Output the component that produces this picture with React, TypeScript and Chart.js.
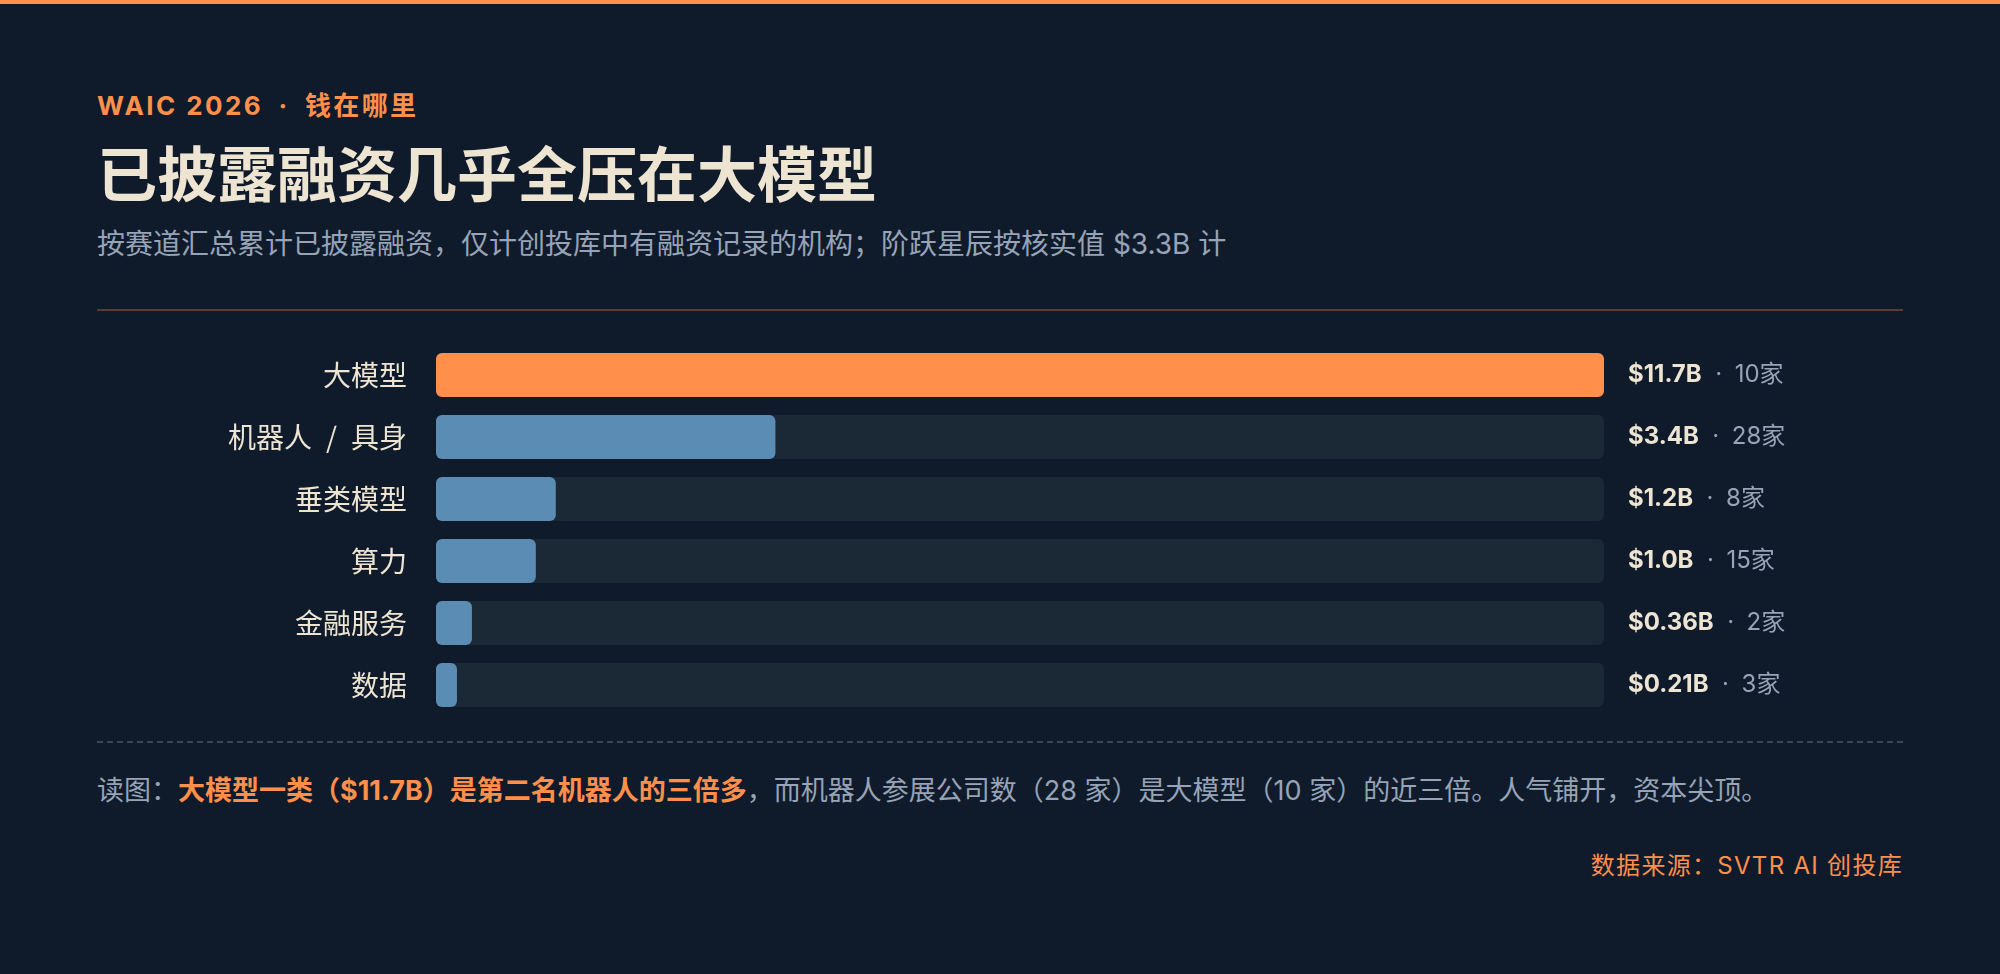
import { useEffect, useRef } from "react";
import { Chart, registerables } from "chart.js";

Chart.register(...registerables);

// ---- data ----
const categories = ["大模型", "机器人 / 具身", "垂类模型", "算力", "金融服务", "数据"];
const fundingB = [11.7, 3.4, 1.2, 1.0, 0.36, 0.21];
const companyCounts = [10, 28, 8, 15, 2, 3];
const highlightIndex = 0;

// ---- style ----
const BG = "#0F1B2B";
const ORANGE = "#FF8F4A";
const BLUE = "#5B8DB4";
const TRACK = "#1B2836";
const CREAM = "#EEE4D2";
const GREY = "#97A3B6";
const FONT = 'Inter, "Noto Sans CJK SC", sans-serif';
const CJK = '"Noto Sans CJK SC", Inter, sans-serif';

const fmt = (v: number) => (v >= 1 ? v.toFixed(1) : v.toFixed(2));

const valueLabelPlugin = {
  id: "valueLabels",
  afterDatasetsDraw(chart: any) {
    const { ctx, chartArea, scales } = chart;
    const ys = scales.y;
    ctx.save();
    ctx.textBaseline = "middle";
    fundingB.forEach((v, i) => {
      const cy = ys.getPixelForValue(i);
      const x0 = chartArea.right + 24;
      ctx.font = `700 24px ${FONT}`;
      ctx.fillStyle = CREAM;
      ctx.textAlign = "left";
      const main = `$${fmt(v)}B`;
      ctx.fillText(main, x0, cy);
      const w = ctx.measureText(main).width;
      ctx.font = `400 24px ${FONT}`;
      ctx.fillStyle = GREY;
      ctx.textAlign = "center";
      ctx.fillText("·", x0 + w + 17, cy);
      ctx.textAlign = "left";
      ctx.fillText(`${companyCounts[i]}家`, x0 + w + 33, cy);
    });
    ctx.restore();
  },
};

export default function App() {
  const canvasRef = useRef<HTMLCanvasElement | null>(null);

  useEffect(() => {
    if (!canvasRef.current) return;
    const trackMax = Math.max(...fundingB);
    const barColors = fundingB.map((_, i) => (i === highlightIndex ? ORANGE : BLUE));
    const chart = new Chart(canvasRef.current, {
      type: "bar",
      data: {
        labels: categories,
        datasets: [
          {
            data: fundingB,
            backgroundColor: barColors,
            borderRadius: 6,
            borderSkipped: false,
            barPercentage: 0.71,
            categoryPercentage: 1,
            grouped: false,
            order: 1,
          },
          {
            data: categories.map(() => trackMax),
            backgroundColor: TRACK,
            borderRadius: 6,
            borderSkipped: false,
            barPercentage: 0.71,
            categoryPercentage: 1,
            grouped: false,
            order: 2,
          },
        ],
      },
      options: {
        indexAxis: "y",
        responsive: false,
        maintainAspectRatio: false,
        animation: false,
        devicePixelRatio: 1,
        layout: { padding: { left: 0, right: 299, top: 20, bottom: 20 } },
        plugins: { legend: { display: false }, tooltip: { enabled: false } },
        scales: {
          x: { min: 0, max: trackMax, display: false },
          y: {
            grid: { display: false, drawTicks: true, tickLength: 29 },
            border: { display: false },
            ticks: {
              color: CREAM,
              font: { size: 28, family: CJK },
              padding: 0,
              callback: (_v: any, i: number) => categories[i].replace(" / ", "\u2002/\u2002"),
            },
            afterFit: (s: any) => {
              s.width = 339;
            },
          },
        },
      },
      plugins: [valueLabelPlugin],
    } as any);
    return () => chart.destroy();
  }, []);

  return (
    <div
      style={{
        position: "fixed",
        left: 0,
        top: 0,
        width: 2000,
        height: 974,
        background: BG,
        overflow: "hidden",
        fontFamily: FONT,
      }}
    >
      <div style={{ position: "absolute", left: 0, top: 0, width: 2000, height: 4, background: ORANGE }} />
      <div
        style={{
          position: "absolute",
          left: 97,
          top: 93,
          fontSize: 26,
          lineHeight: "26px",
          fontWeight: 700,
          letterSpacing: "2.4px",
          color: ORANGE,
          whiteSpace: "nowrap",
        }}
      >
        WAIC 2026{"\u2002·\u2002"}钱在哪里
      </div>
      <div
        style={{
          position: "absolute",
          left: 97,
          top: 141,
          fontSize: 60,
          lineHeight: "60px",
          fontWeight: 700,
          color: CREAM,
          fontFamily: CJK,
          whiteSpace: "nowrap",
        }}
      >
        已披露融资几乎全压在大模型
      </div>
      <div
        style={{
          position: "absolute",
          left: 97,
          top: 230,
          fontSize: 28,
          lineHeight: "28px",
          color: GREY,
          whiteSpace: "nowrap",
        }}
      >
        按赛道汇总累计已披露融资，仅计创投库中有融资记录的机构；阶跃星辰按核实值 $3.3B 计
      </div>
      <div
        style={{ position: "absolute", left: 97, top: 309, width: 1806, height: 2, background: "#573E34" }}
      />
      <canvas
        ref={canvasRef}
        width={1806}
        height={412}
        style={{ position: "absolute", left: 97, top: 324, width: 1806, height: 412 }}
      />
      <div
        style={{
          position: "absolute",
          left: 97,
          top: 741,
          width: 1806,
          height: 2,
          background: "repeating-linear-gradient(to right, #3A4656 0 6px, transparent 6px 10px)",
        }}
      />
      <div
        style={{
          position: "absolute",
          left: 97,
          top: 777,
          fontSize: 27,
          lineHeight: "27px",
          color: GREY,
          whiteSpace: "nowrap",
        }}
      >
        读图：
        <span style={{ color: ORANGE, fontWeight: 700 }}>大模型一类（$11.7B）是第二名机器人的三倍多</span>
        ，而机器人参展公司数（28 家）是大模型（10 家）的近三倍。人气铺开，资本尖顶。
      </div>
      <div
        style={{
          position: "absolute",
          right: 97,
          top: 854,
          fontSize: 24,
          lineHeight: "24px",
          letterSpacing: "1.3px",
          color: ORANGE,
          whiteSpace: "nowrap",
        }}
      >
        数据来源：SVTR AI 创投库
      </div>
    </div>
  );
}
